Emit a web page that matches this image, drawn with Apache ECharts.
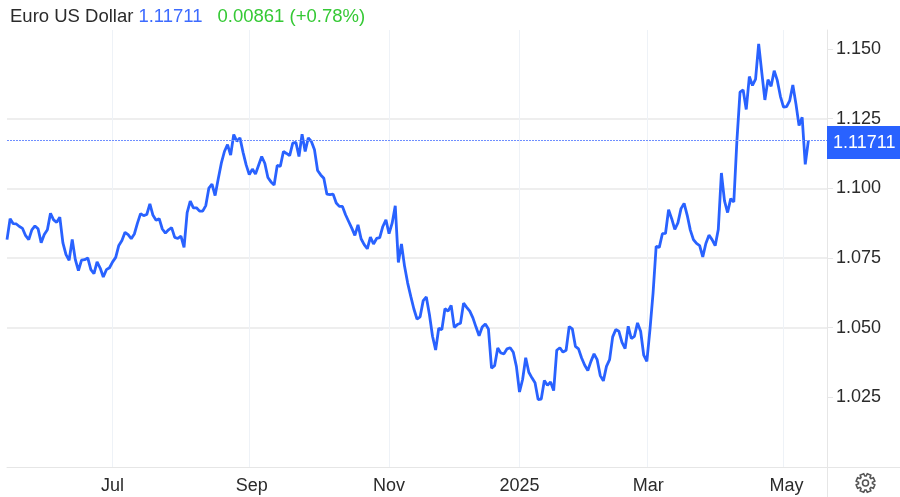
<!DOCTYPE html>
<html>
<head>
<meta charset="utf-8">
<style>
html, body { margin: 0; padding: 0; background: #fff; }
#chart { width: 900px; height: 497px; }
</style>
<script src="https://cdn.jsdelivr.net/npm/echarts@6/dist/echarts.min.js"></script>
</head>
<body>
<div id="chart"></div>
<script>
// daily close, one value per trading day
let closes = [
    1.0816, 1.0891, 1.0873, 1.0872, 1.0863, 1.0856, 1.0830, 1.0816, 1.0851, 1.0865,
    1.0855, 1.0805, 1.0834, 1.0851, 1.0910, 1.0887, 1.0878, 1.0896, 1.0804, 1.0762,
    1.0742, 1.0816, 1.0744, 1.0705, 1.0742, 1.0744, 1.0750, 1.0708, 1.0694, 1.0736,
    1.0714, 1.0682, 1.0708, 1.0715, 1.0736, 1.0752, 1.0795, 1.0813, 1.0842, 1.0834,
    1.0819, 1.0836, 1.0875, 1.0909, 1.0902, 1.0906, 1.0944, 1.0903, 1.0885, 1.0891,
    1.0854, 1.0839, 1.0851, 1.0859, 1.0824, 1.0820, 1.0828, 1.0788, 1.0913, 1.0954,
    1.0930, 1.0930, 1.0918, 1.0918, 1.0938, 1.1001, 1.1015, 1.0974, 1.1033, 1.1090,
    1.1132, 1.1157, 1.1119, 1.1193, 1.1169, 1.1181, 1.1129, 1.1084, 1.1049, 1.1069,
    1.1051, 1.1083, 1.1114, 1.1090, 1.1039, 1.1023, 1.1012, 1.1082, 1.1079, 1.1132,
    1.1125, 1.1117, 1.1162, 1.1165, 1.1114, 1.1194, 1.1132, 1.1181, 1.1168, 1.1138,
    1.1064, 1.1048, 1.1036, 1.0979, 1.0977, 1.0979, 1.0947, 1.0935, 1.0935, 1.0905,
    1.0881, 1.0857, 1.0831, 1.0869, 1.0819, 1.0798, 1.0783, 1.0825, 1.0800, 1.0820,
    1.0823, 1.0863, 1.0887, 1.0837, 1.0875, 1.0937, 1.0734, 1.0800, 1.0720, 1.0660,
    1.0612, 1.0567, 1.0531, 1.0539, 1.0597, 1.0610, 1.0547, 1.0469, 1.0420, 1.0498,
    1.0493, 1.0568, 1.0559, 1.0580, 1.0501, 1.0511, 1.0516, 1.0588, 1.0573, 1.0559,
    1.0535, 1.0502, 1.0471, 1.0502, 1.0513, 1.0495, 1.0355, 1.0364, 1.0427, 1.0409,
    1.0406, 1.0424, 1.0428, 1.0412, 1.0361, 1.0269, 1.0314, 1.0392, 1.0340, 1.0320,
    1.0302, 1.0242, 1.0244, 1.0310, 1.0293, 1.0305, 1.0274, 1.0419, 1.0428, 1.0412,
    1.0419, 1.0504, 1.0496, 1.0433, 1.0424, 1.0391, 1.0365, 1.0346, 1.0379, 1.0406,
    1.0385, 1.0328, 1.0309, 1.0361, 1.0385, 1.0467, 1.0493, 1.0487, 1.0447, 1.0425,
    1.0505, 1.0461, 1.0469, 1.0517, 1.0487, 1.0401, 1.0379, 1.0493, 1.0624, 1.0792,
    1.0788, 1.0837, 1.0838, 1.0923, 1.0891, 1.0853, 1.0876, 1.0927, 1.0946, 1.0903,
    1.0850, 1.0816, 1.0802, 1.0794, 1.0754, 1.0802, 1.0832, 1.0816, 1.0794, 1.0852,
    1.1055, 1.0955, 1.0913, 1.0963, 1.0951, 1.1172, 1.1345, 1.1353, 1.1283, 1.1401,
    1.1369, 1.1392, 1.1518, 1.1416, 1.1317, 1.1390, 1.1366, 1.1422, 1.1387, 1.1330,
    1.1291, 1.1293, 1.1315, 1.1371, 1.1303, 1.1225, 1.1255, 1.1086, 1.11711
];
let lastPrice = 1.11711;
let monthLabels = ["Jul", "Sep", "Nov", "2025", "Mar", "May"];
let monthIndex = [34, 78, 123, 165, 206, 250];
let priceTicks = [1.025, 1.05, 1.075, 1.1, 1.125, 1.15];
let slotCount = 265; // trading days plus the empty room on the right

let blue = "#2962ff";
let font = '"Liberation Sans", Arial, sans-serif';

let categories = new Array(slotCount).fill("");
monthIndex.forEach((idx, n) => { categories[idx] = monthLabels[n]; });

let hasLabel = (idx, val) => val !== "";

// Sep, Mar and May sit a little right of their grid line
let shiftedLabels = {
    Sep: { padding: [0, 0, 0, 5] },
    Mar: { padding: [0, 0, 0, 3] },
    May: { padding: [0, 0, 0, 6] }
};

// settings gear outline, eight teeth around a centre
function gearPoints(cx, cy, outer, inner) {
    let pts = [];
    for (let t = 0; t < 8; t++) {
        let a = t * Math.PI / 4 + Math.PI / 8;
        [[-0.30, inner], [-0.20, outer], [0.20, outer], [0.30, inner]].forEach(p => {
            pts.push([cx + p[1] * Math.cos(a + p[0]), cy + p[1] * Math.sin(a + p[0])]);
        });
    }
    return pts;
}

let myChart = echarts.init(document.getElementById("chart"), null, { renderer: "canvas" });
myChart.setOption({
    animation: false,
    backgroundColor: "#fff",
    textStyle: { fontFamily: font },
    title: {
        left: 5,
        top: 2,
        text: "{name|Euro US Dollar} {price|1.11711}   {change|0.00861 (+0.78%)}",
        textStyle: {
            fontWeight: "normal",
            rich: {
                name: { fontSize: 18.5, color: "#2b2b2b", fontFamily: font, fontWeight: "normal" },
                price: { fontSize: 18.5, color: "#3d6bff", fontFamily: font, fontWeight: "normal" },
                change: { fontSize: 18.5, color: "#35c935", fontFamily: font, fontWeight: "normal" }
            }
        }
    },
    grid: { left: 7, right: 73, top: 30, bottom: 30 },
    xAxis: {
        type: "category",
        data: categories,
        boundaryGap: false,
        axisLine: { show: true, lineStyle: { color: "#e6e6e6", width: 1 } },
        axisTick: { show: false },
        axisLabel: {
            interval: hasLabel,
            margin: 10,
            fontSize: 18,
            color: "#2b2b2b",
            fontFamily: font,
            hideOverlap: false,
            formatter: val => shiftedLabels[val] ? `{${val}|${val}}` : val,
            rich: shiftedLabels
        },
        splitLine: {
            show: true,
            interval: hasLabel,
            lineStyle: { color: "#eef2f7", width: 1 }
        }
    },
    yAxis: {
        type: "value",
        position: "right",
        min: 1,
        max: 1.1568,
        interval: 0.025,
        axisLine: { show: true, lineStyle: { color: "#e6e6e6", width: 1 } },
        axisTick: { show: true, length: 6, customValues: priceTicks, lineStyle: { color: "#e6e6e6" } },
        axisLabel: {
            margin: 9,
            fontSize: 18,
            color: "#2b2b2b",
            fontFamily: font,
            customValues: priceTicks,
            formatter: val => val.toFixed(3)
        },
        splitLine: {
            show: true,
            showMinLine: false,
            showMaxLine: false,
            lineStyle: { color: "#e9e9e9", width: 1.5 }
        }
    },
    series: [{
        type: "line",
        data: closes,
        showSymbol: false,
        smooth: false,
        lineStyle: { color: blue, width: 2.8 },
        itemStyle: { color: blue },
        markLine: {
            silent: true,
            symbol: "none",
            precision: 5,
            data: [{
                yAxis: lastPrice,
                lineStyle: { color: "#6f8fff", type: [2, 1], width: 1 }
            }],
            label: {
                position: "end",
                distance: 0,
                offset: [0, 2],
                formatter: () => lastPrice.toFixed(5),
                backgroundColor: blue,
                color: "#fff",
                fontSize: 18,
                fontFamily: font,
                padding: [8, 6, 7, 6]
            }
        }
    }],
    graphic: [
        { type: "line", silent: true, shape: { x1: 827.5, y1: 467, x2: 827.5, y2: 497 }, style: { stroke: "#e6e6e6", lineWidth: 1 } },
        { type: "line", silent: true, shape: { x1: 827, y1: 467.5, x2: 900, y2: 467.5 }, style: { stroke: "#e6e6e6", lineWidth: 1 } },
        { type: "polygon", silent: true, shape: { points: gearPoints(865.5, 483, 9.5, 7) }, style: { fill: "none", stroke: "#555", lineWidth: 1.6 } },
        { type: "circle", silent: true, shape: { cx: 865.5, cy: 483, r: 3 }, style: { fill: "none", stroke: "#555", lineWidth: 1.6 } }
    ]
});
</script>
</body>
</html>
